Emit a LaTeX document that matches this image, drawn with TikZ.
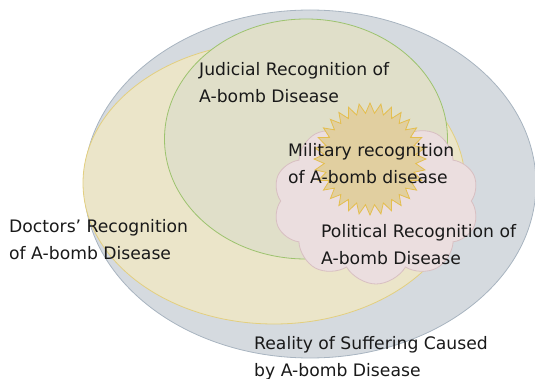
\documentclass[tikz,border=0pt]{standalone}
\usepackage{fontspec}
\setmainfont{DejaVu Sans}
\usetikzlibrary{shapes.geometric,shapes.symbols}
\definecolor{greyfill}{HTML}{D5DADF}
\definecolor{greyline}{HTML}{A8B4C0}
\definecolor{yellowfill}{HTML}{EBE5C9}
\definecolor{yellowline}{HTML}{E3CF7F}
\definecolor{greenfill}{HTML}{E0DFC9}
\definecolor{greenline}{HTML}{9DC36E}
\definecolor{pinkfill}{HTML}{EBDEDF}
\definecolor{pinkline}{HTML}{D8BFC2}
\definecolor{starfill}{HTML}{E1CFA0}
\definecolor{starline}{HTML}{E4BE4E}
\tikzset{
  region/.style={ellipse,inner sep=0pt,line width=0.8pt},
  label/.style={anchor=west,align=left,inner sep=0pt,text=black!90,
    font=\fontsize{17.2}{27}\selectfont}
}
\begin{document}
\begin{tikzpicture}[x=1pt,y=-1pt]
  \useasboundingbox (0,0) rectangle (535,379);
  % reality of suffering
  \node[region,draw=greyline,fill=greyfill,minimum width=452pt,minimum height=348pt] (reality) at (310,184) {};
  % doctors
  \node[region,draw=yellowline,fill=yellowfill,minimum width=382pt,minimum height=282pt] (doctors) at (274,183) {};
  % judicial
  \node[region,draw=greenline,fill=greenfill,minimum width=283pt,minimum height=240pt] (judicial) at (306,139) {};
  % political
  \node[cloud,cloud puffs=10,cloud puff arc=120,aspect=1.3,draw=pinkline,fill=pinkfill,line width=0.8pt,
    minimum width=206pt,minimum height=166pt,inner sep=0pt] (political) at (376,201) {};
  % military
  \node[star,star points=32,star point ratio=1.22,draw=starline,fill=starfill,line width=0.8pt,
    minimum size=112pt,inner sep=0pt] (military) at (370,159) {};
  % labels
  \node[label] (judicialtext) at (199,83) {Judicial Recognition of\\A-bomb Disease};
  \node[label] (militarytext) at (288,164) {Military recognition\\of A-bomb disease};
  \node[label] (politicaltext) at (321,245) {Political Recognition of\\A-bomb Disease};
  \node[label] (doctorstext) at (9,240) {Doctors’ Recognition\\of A-bomb Disease};
  \node[label] (realitytext) at (254,358) {Reality of Suffering Caused\\by A-bomb Disease};
\end{tikzpicture}
\end{document}
